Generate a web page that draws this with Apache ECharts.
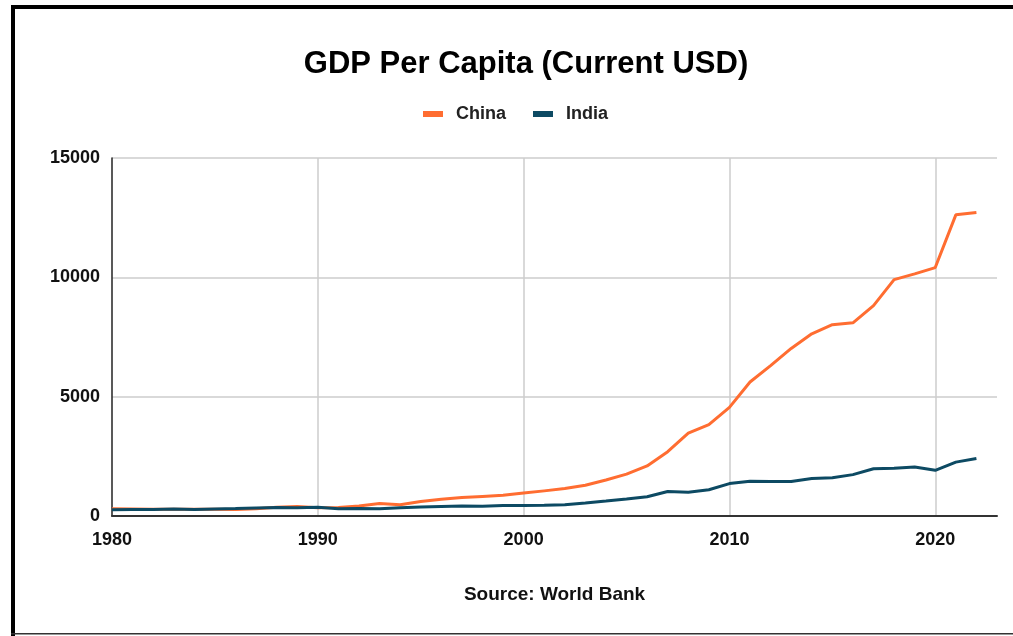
<!DOCTYPE html>
<html>
<head>
<meta charset="utf-8">
<title>GDP Per Capita (Current USD)</title>
<script src="https://cdn.jsdelivr.net/npm/echarts@6/dist/echarts.min.js"></script>
<style>
  html, body { margin: 0; padding: 0; background: #fff; }
  #chart { width: 1013px; height: 636px; }
</style>
</head>
<body>
<div id="chart"></div>
<script>
// GDP per capita, current US dollars, 1980-2022
const years = [
  1980, 1981, 1982, 1983, 1984, 1985, 1986, 1987, 1988, 1989,
  1990, 1991, 1992, 1993, 1994, 1995, 1996, 1997, 1998, 1999,
  2000, 2001, 2002, 2003, 2004, 2005, 2006, 2007, 2008, 2009,
  2010, 2011, 2012, 2013, 2014, 2015, 2016, 2017, 2018, 2019,
  2020, 2021, 2022
];
const china = [
  300, 290, 280, 285, 280, 280, 270, 300, 370, 400,
  350, 360, 420, 520, 470, 610, 700, 775, 820, 865,
  959, 1053, 1149, 1289, 1509, 1753, 2099, 2694, 3468, 3832,
  4550, 5614, 6301, 7020, 7636, 8016, 8094, 8817, 9905, 10144,
  10409, 12618, 12720
];
const india = [
  266, 271, 275, 292, 277, 296, 310, 340, 355, 348,
  368, 303, 317, 301, 346, 374, 400, 415, 413, 442,
  443, 452, 471, 546, 627, 714, 807, 1028, 999, 1102,
  1358, 1458, 1444, 1450, 1574, 1606, 1733, 1981, 1997, 2050,
  1916, 2257, 2411
];
const yTicks = [0, 5000, 10000, 15000];
const xTicks = [1980, 1990, 2000, 2010, 2020];

const FONT = '"Liberation Sans", Arial, sans-serif';
const pairs = (vals) => years.map((y, i) => [y, vals[i]]);

const chart = echarts.init(document.getElementById('chart'), null, { renderer: 'canvas' });

chart.setOption({
  backgroundColor: '#ffffff',
  animation: false,
  title: {
    text: 'GDP Per Capita (Current USD)',
    left: 521,
    textAlign: 'center',
    top: 44,
    textStyle: { fontFamily: FONT, fontSize: 31, fontWeight: 'bold', color: '#000' }
  },
  legend: {
    left: 418,
    top: 100,
    itemWidth: 20,
    itemHeight: 6,
    itemGap: 27,
    icon: 'rect',
    data: ['China', 'India'],
    textStyle: { fontFamily: FONT, fontSize: 18, fontWeight: 'bold', color: '#222', padding: [0, 0, 0, 8] }
  },
  graphic: [
    { type: 'rect', shape: { x: 11, y: 5, width: 1002, height: 4 }, style: { fill: '#000' }, silent: true },
    { type: 'rect', shape: { x: 11, y: 5, width: 4, height: 631 }, style: { fill: '#000' }, silent: true },
    { type: 'rect', shape: { x: 11, y: 633, width: 1002, height: 1.5 }, style: { fill: '#333' }, silent: true }
  ],
  grid: { left: 112, right: 16, top: 158, bottom: 120, containLabel: false },
  xAxis: {
    type: 'value',
    min: xTicks[0],
    max: 2023,
    interval: 10,
    name: 'Source: World Bank',
    nameLocation: 'middle',
    nameGap: 69,
    nameTextStyle: { fontFamily: FONT, fontSize: 19, fontWeight: 'bold', color: '#111' },
    axisLine: { show: true, lineStyle: { color: '#333', width: 2 } },
    axisTick: { show: false },
    axisLabel: {
      showMaxLabel: false,
      margin: 15,
      fontFamily: FONT, fontSize: 18, fontWeight: 'bold', color: '#111',
      formatter: (v) => String(v)
    },
    splitLine: { show: true, showMinLine: false, showMaxLine: false, lineStyle: { color: '#cdcdcd', width: 1.5 } }
  },
  yAxis: {
    type: 'value',
    min: yTicks[0],
    max: yTicks[yTicks.length - 1],
    interval: 5000,
    axisLine: { show: true, lineStyle: { color: '#222', width: 1.5 } },
    axisTick: { show: false },
    axisLabel: {
      margin: 12,
      fontFamily: FONT, fontSize: 18, fontWeight: 'bold', color: '#111',
      formatter: (v) => String(v)
    },
    splitLine: { show: true, showMinLine: false, lineStyle: { color: '#cdcdcd', width: 1.5 } }
  },
  series: [
    {
      name: 'China',
      type: 'line',
      data: pairs(china),
      symbol: 'none',
      color: '#ff6d31',
      lineStyle: { width: 3, color: '#ff6d31' }
    },
    {
      name: 'India',
      type: 'line',
      data: pairs(india),
      symbol: 'none',
      color: '#0d4a63',
      lineStyle: { width: 3, color: '#0d4a63' }
    }
  ]
});
</script>
</body>
</html>
